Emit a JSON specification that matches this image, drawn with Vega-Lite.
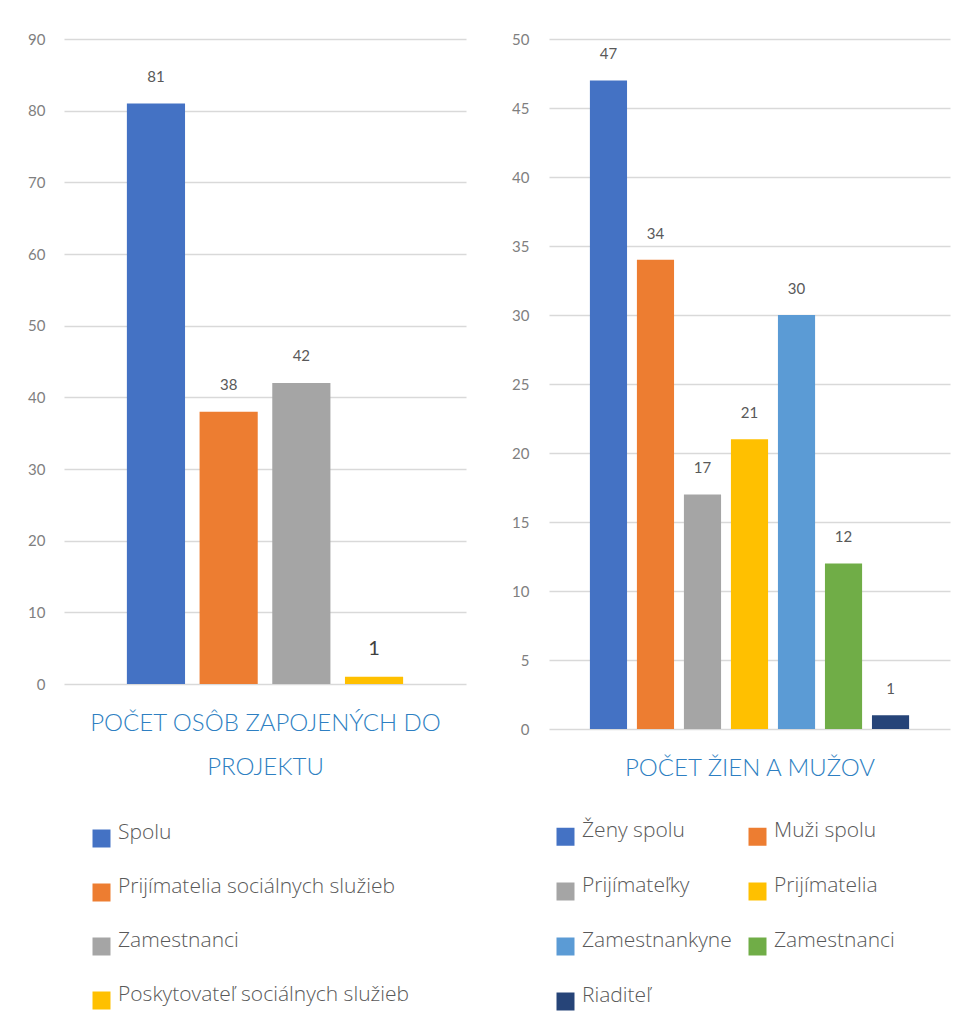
{
  "$schema": "https://vega.github.io/schema/vega-lite/v6.json",
  "background": "white",
  "padding": {"left": 27, "top": 32, "right": 5, "bottom": 5},
  "datasets": {
    "osoby": [
      {"kategoria": "Spolu", "pocet": 81},
      {"kategoria": "Prijímatelia sociálnych služieb", "pocet": 38},
      {"kategoria": "Zamestnanci", "pocet": 42},
      {"kategoria": "Poskytovateľ sociálnych služieb", "pocet": 1}
    ],
    "zenymuzi": [
      {"kategoria": "Ženy spolu", "pocet": 47},
      {"kategoria": "Muži spolu", "pocet": 34},
      {"kategoria": "Prijímateľky", "pocet": 17},
      {"kategoria": "Prijímatelia", "pocet": 21},
      {"kategoria": "Zamestnankyne", "pocet": 30},
      {"kategoria": "Zamestnanci", "pocet": 12},
      {"kategoria": "Riaditeľ", "pocet": 1}
    ]
  },
  "hconcat": [
    {
      "data": {"name": "osoby"},
      "width": 402,
      "height": 645,
      "encoding": {
        "x": {
          "field": "kategoria",
          "type": "nominal",
          "sort": ["Spolu", "Prijímatelia sociálnych služieb", "Zamestnanci", "Poskytovateľ sociálnych služieb"],
          "scale": {"paddingInner": 0.2, "paddingOuter": 0.865},
          "axis": {
            "title": ["POČET OSÔB ZAPOJENÝCH DO", "PROJEKTU"],
            "labels": false, "ticks": false, "domain": false, "grid": false,
            "titleColor": "#2e7fc2", "titleFont": "Lato", "titleFontSize": 24, "titleFontWeight": 300,
            "titlePadding": 27, "titleLineHeight": 44
          }
        },
        "y": {
          "field": "pocet",
          "type": "quantitative",
          "scale": {"domain": [0, 90], "nice": false},
          "axis": {
            "values": [0, 10, 20, 30, 40, 50, 60, 70, 80, 90],
            "title": null, "domain": false, "ticks": false, "tickSize": 0,
            "labelPadding": 19, "labelColor": "#7f7f7f", "labelFont": "Lato", "labelFontSize": 15,
            "gridColor": "#d9d9d9", "gridWidth": 1.5
          }
        }
      },
      "layer": [
        {
          "mark": {"type": "bar"},
          "encoding": {
            "color": {
              "field": "kategoria",
              "type": "nominal",
              "scale": {
                "domain": ["Spolu", "Prijímatelia sociálnych služieb", "Zamestnanci", "Poskytovateľ sociálnych služieb"],
                "range": ["#4472c4", "#ed7d31", "#a5a5a5", "#ffc000"]
              },
              "legend": {
                "title": null, "orient": "none", "legendX": 27, "legendY": 789,
                "symbolType": "square", "symbolSize": 324, "symbolStrokeWidth": 0,
                "labelFont": "Open Sans", "labelFontSize": 21, "labelFontWeight": 300, "labelColor": "#595959",
                "labelBaseline": "alphabetic", "labelOffset": 6, "rowPadding": 27,
                "padding": 0, "labelLimit": 400
              }
            }
          }
        },
        {
          "mark": {"type": "text", "baseline": "alphabetic", "dy": -22, "font": "Lato"},
          "encoding": {
            "text": {"field": "pocet", "type": "quantitative"},
            "size": {"condition": {"test": "datum['kategoria'] == 'Poskytovateľ sociálnych služieb'", "value": 20}, "value": 15},
            "color": {"condition": {"test": "datum['kategoria'] == 'Poskytovateľ sociálnych služieb'", "value": "#404040"}, "value": "#595959"}
          }
        }
      ]
    },
    {
      "data": {"name": "zenymuzi"},
      "width": 401,
      "height": 690,
      "encoding": {
        "x": {
          "field": "kategoria",
          "type": "nominal",
          "sort": ["Ženy spolu", "Muži spolu", "Prijímateľky", "Prijímatelia", "Zamestnankyne", "Zamestnanci", "Riaditeľ"],
          "scale": {"paddingInner": 0.21, "paddingOuter": 0.87},
          "axis": {
            "title": "POČET ŽIEN A MUŽOV",
            "labels": false, "ticks": false, "domain": false, "grid": false,
            "titleColor": "#2e7fc2", "titleFont": "Lato", "titleFontSize": 24, "titleFontWeight": 300,
            "titlePadding": 27
          }
        },
        "y": {
          "field": "pocet",
          "type": "quantitative",
          "scale": {"domain": [0, 50], "nice": false},
          "axis": {
            "values": [0, 5, 10, 15, 20, 25, 30, 35, 40, 45, 50],
            "title": null, "domain": false, "ticks": false, "tickSize": 0,
            "labelPadding": 20, "labelColor": "#7f7f7f", "labelFont": "Lato", "labelFontSize": 15,
            "gridColor": "#d9d9d9", "gridWidth": 1.5
          }
        }
      },
      "layer": [
        {
          "mark": {"type": "bar"},
          "encoding": {
            "color": {
              "field": "kategoria",
              "type": "nominal",
              "scale": {
                "domain": ["Ženy spolu", "Muži spolu", "Prijímateľky", "Prijímatelia", "Zamestnankyne", "Zamestnanci", "Riaditeľ"],
                "range": ["#4472c4", "#ed7d31", "#a5a5a5", "#ffc000", "#5b9bd5", "#70ad47", "#264478"]
              },
              "legend": {
                "title": null, "orient": "none", "legendX": 6, "legendY": 787,
                "direction": "horizontal", "columns": 2, "columnPadding": 15,
                "symbolType": "square", "symbolSize": 324, "symbolStrokeWidth": 0,
                "labelFont": "Open Sans", "labelFontSize": 21, "labelFontWeight": 300, "labelColor": "#595959",
                "labelBaseline": "alphabetic", "labelOffset": 6, "rowPadding": 28,
                "padding": 0, "labelLimit": 400
              }
            }
          }
        },
        {
          "mark": {"type": "text", "baseline": "alphabetic", "dy": -21, "color": "#595959", "fontSize": 15, "font": "Lato"},
          "encoding": {
            "text": {"field": "pocet", "type": "quantitative"}
          }
        }
      ]
    }
  ],
  "spacing": 45,
  "resolve": {
    "scale": {"x": "independent", "y": "independent", "color": "independent"},
    "legend": {"color": "independent"}
  },
  "config": {"font": "Lato", "view": {"stroke": null}}
}
